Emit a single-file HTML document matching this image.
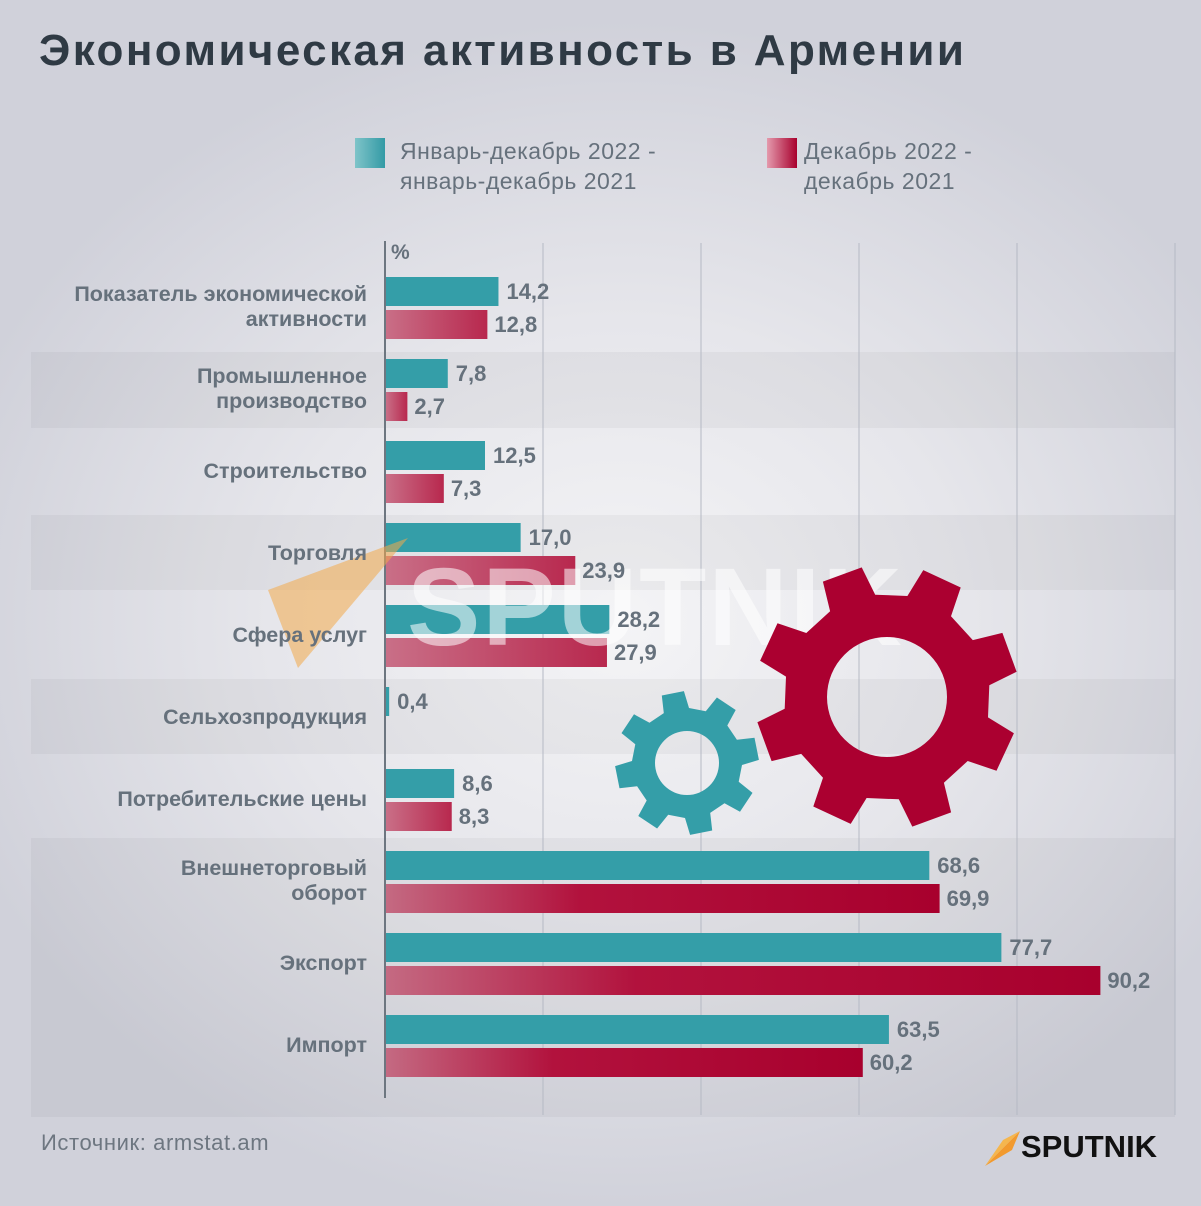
<!DOCTYPE html>
<html><head><meta charset="utf-8"><style>
body{margin:0;width:1201px;height:1206px;overflow:hidden;font-family:"Liberation Sans",sans-serif;}
#bg{position:absolute;left:0;top:0;width:1201px;height:1206px;background:radial-gradient(ellipse 700px 600px at 620px 620px,#f4f4f6 0%,#e6e6eb 50%,#d0d1da 100%);}
.t{position:absolute;color:#66717c;font-size:21px;white-space:nowrap}
.b{font-weight:bold}
</style></head><body>
<div id="bg"></div>
<svg id="s" width="1201" height="1206" style="position:absolute;left:0;top:0" xmlns="http://www.w3.org/2000/svg">
<defs>
<linearGradient id="pk" x1="0" x2="1"><stop offset="0" stop-color="#c96f87"/><stop offset="1" stop-color="#b8284e"/></linearGradient>
<linearGradient id="pk2" x1="0" x2="1"><stop offset="0" stop-color="#c46a82"/><stop offset="0.35" stop-color="#b2123d"/><stop offset="1" stop-color="#a8002d"/></linearGradient>
<linearGradient id="lt" x1="0" x2="1"><stop offset="0" stop-color="#7fc4c9"/><stop offset="1" stop-color="#339aa5"/></linearGradient>
<linearGradient id="lp" x1="0" x2="1"><stop offset="0" stop-color="#e49aad"/><stop offset="1" stop-color="#a8002d"/></linearGradient>
</defs>
<g fill="#000" fill-opacity="0.035">
<rect x="31" y="352" width="1144" height="76"/>
<rect x="31" y="515" width="1144" height="75"/>
<rect x="31" y="679" width="1144" height="75"/>
<rect x="31" y="838" width="1144" height="279"/>
</g>
<g stroke="#b5b9c4" stroke-width="1">
<line x1="543" y1="243" x2="543" y2="1115"/><line x1="701" y1="243" x2="701" y2="1115"/>
<line x1="859" y1="243" x2="859" y2="1115"/><line x1="1017" y1="243" x2="1017" y2="1115"/>
<line x1="1175" y1="243" x2="1175" y2="1115"/>
</g>
<line x1="385" y1="241" x2="385" y2="1098" stroke="#6d7680" stroke-width="2"/>
<g id="bars"></g>
<text x="407" y="645" font-family="Liberation Sans" font-weight="bold" font-size="110" fill="#ffffff" fill-opacity="0.55" letter-spacing="2">SPUTNIK</text>
<polygon points="268,590 408,538 298,668" fill="#f2a94a" fill-opacity="0.55"/>
<path id="g1" fill="#349ea8" fill-rule="evenodd"/>
<path id="g2" fill="#ab0030" fill-rule="evenodd"/>
<rect x="355" y="138" width="30" height="30" fill="url(#lt)"/>
<rect x="767" y="138" width="30" height="30" fill="url(#lp)"/>
<polygon points="985,1166 1020,1131 1012,1150" fill="#f29a2e"/>
<polygon points="985,1166 1003,1140 1020,1131" fill="#f5b64e"/>
</svg>
<div class="t" style="left:39px;top:26px;font-size:44px;letter-spacing:2.4px;font-weight:bold;color:#2f3a44">Экономическая активность в Армении</div>
<div class="t" style="left:400px;top:136px;font-size:23px;letter-spacing:0.5px;line-height:30px">Январь-декабрь 2022 -<br>январь-декабрь 2021</div>
<div class="t" style="left:804px;top:136px;font-size:23px;letter-spacing:0.5px;line-height:30px">Декабрь 2022 -<br>декабрь 2021</div>
<div class="t b" style="left:391px;top:241px">%</div>
<div class="t" style="left:41px;top:1130px;font-size:22px;letter-spacing:0.6px;color:#6d7680">Источник: armstat.am</div>
<div class="t" style="left:1021px;top:1129px;font-size:31px;font-weight:bold;color:#111">SPUTNIK</div>
<div id="lab"></div>
<script>
var d=[["Показатель экономической<br>активности",14.2,12.8],["Промышленное<br>производство",7.8,2.7],["Строительство",12.5,7.3],["Торговля",17.0,23.9],["Сфера услуг",28.2,27.9],["Сельхозпродукция",0.4,null],["Потребительские цены",8.6,8.3],["Внешнеторговый<br>оборот",68.6,69.9],["Экспорт",77.7,90.2],["Импорт",63.5,60.2]];
var b="",l="",k=7.92;
d.forEach(function(r,i){var y=277+i*82;var two=r[0].indexOf("<br>")>0;
l+='<div class="t b" style="right:834px;text-align:right;font-size:21.5px;line-height:25px;top:'+(two?y+5:y+18)+'px">'+r[0]+'</div>';
var w=Math.max(r[1]*k,3);b+='<rect x="386" y="'+y+'" width="'+w+'" height="29" fill="#349ea8"/>';
l+='<div class="t b" style="font-size:22px;left:'+(386+w+8)+'px;top:'+(y+2)+'px">'+r[1].toFixed(1).replace(".",",")+'</div>';
if(r[2]!=null){var w2=r[2]*k;b+='<rect x="386" y="'+(y+33)+'" width="'+w2+'" height="29" fill="url(#'+(w2>300?'pk2':'pk')+')"/>';
l+='<div class="t b" style="font-size:22px;left:'+(386+w2+7)+'px;top:'+(y+35)+'px">'+r[2].toFixed(1).replace(".",",")+'</div>';}
});
document.getElementById("bars").innerHTML=b;document.getElementById("lab").innerHTML=l;
function gear(cx,cy,ro,ri,rh,n,off){var p="",s=2*Math.PI/n;for(var i=0;i<n;i++){var a=off+i*s;
var pts=[[ri,a-s*0.3],[ro,a-s*0.2],[ro,a+s*0.2],[ri,a+s*0.3]];
pts.forEach(function(q,j){p+=(i==0&&j==0?"M":"L")+(cx+q[0]*Math.cos(q[1])).toFixed(1)+","+(cy+q[0]*Math.sin(q[1])).toFixed(1);});}
p+="Z M"+(cx+rh)+","+cy+" A"+rh+","+rh+" 0 1,0 "+(cx-rh)+","+cy+" A"+rh+","+rh+" 0 1,0 "+(cx+rh)+","+cy+"Z";return p;}
document.getElementById("g1").setAttribute("d",gear(687,763,72,55,32,8,-0.2));
document.getElementById("g2").setAttribute("d",gear(887,697,132,103,60,8,-0.35));
</script>
</body></html>
